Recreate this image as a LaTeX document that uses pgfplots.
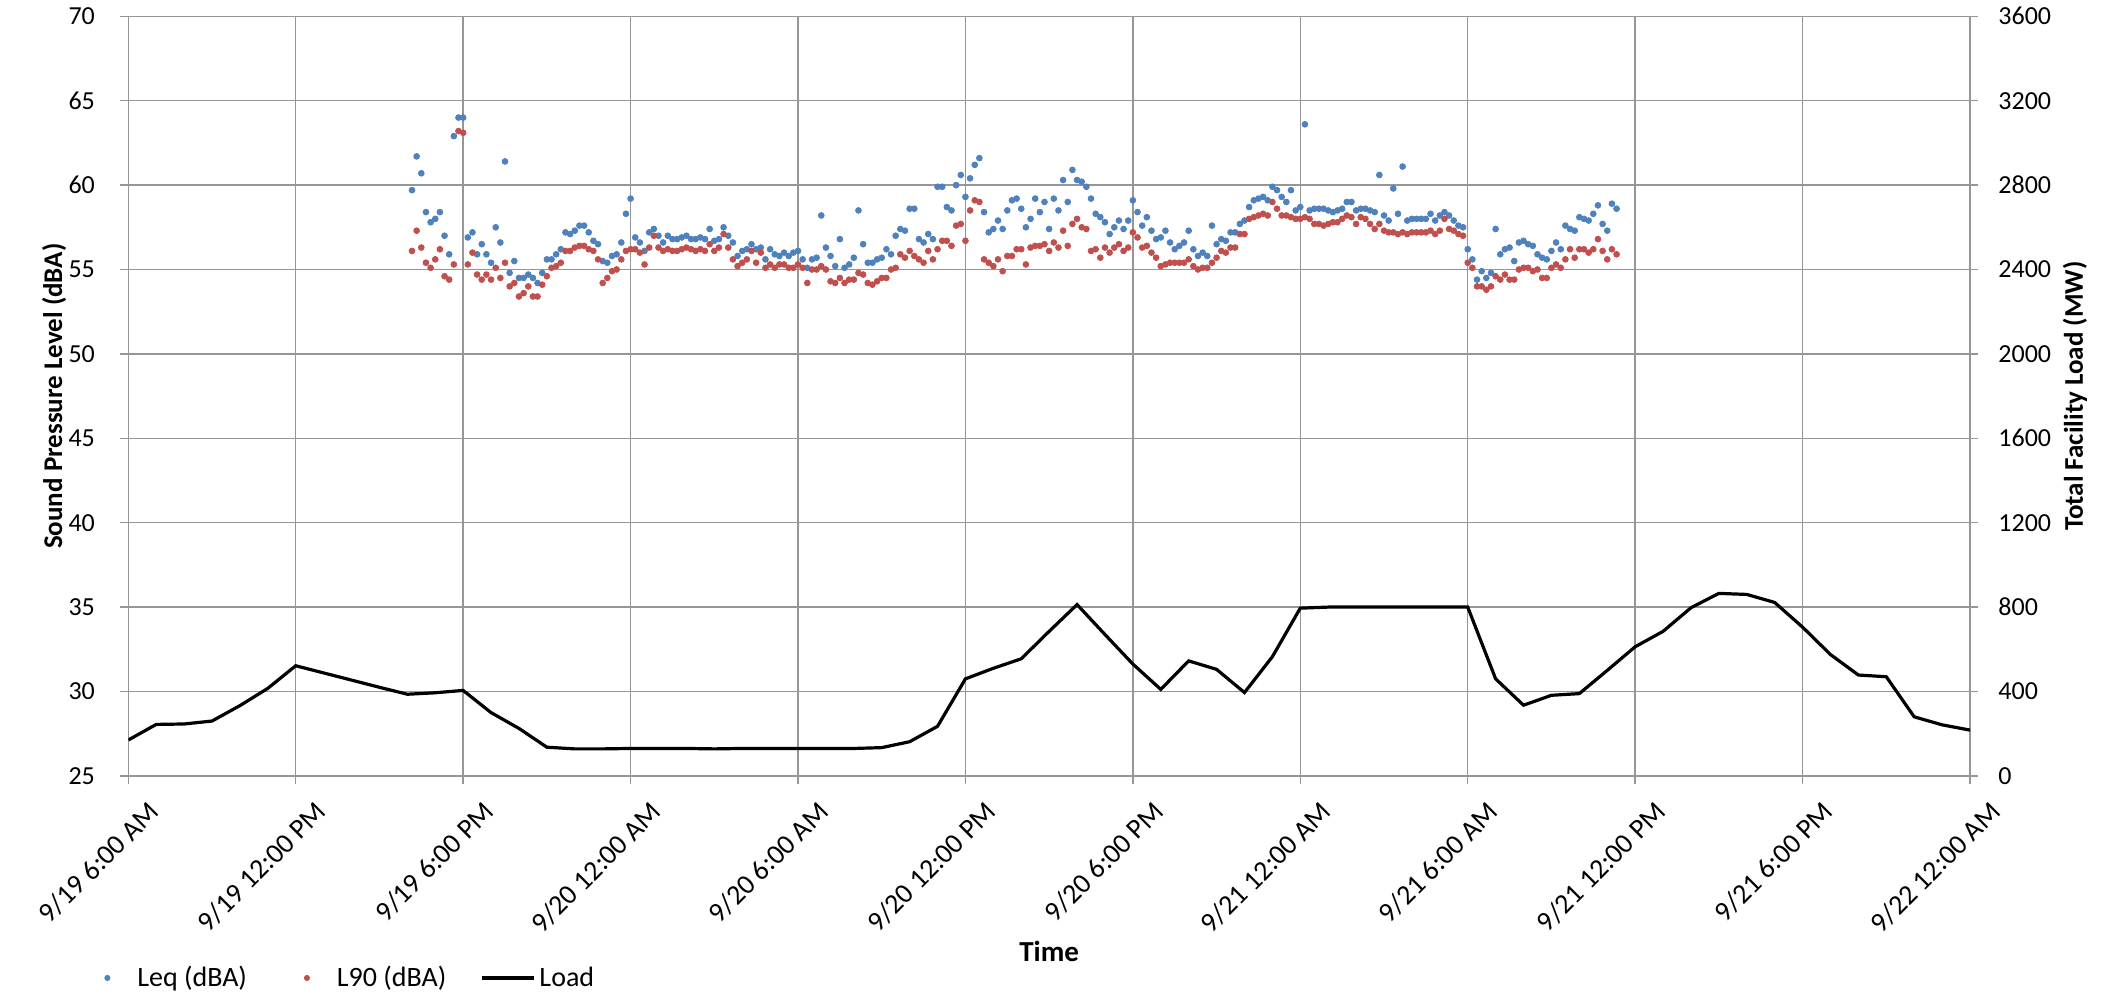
\documentclass[border=0pt]{standalone}
\usepackage{fontspec}
\setmainfont{Carlito}
\usepackage{pgfplots}
\usepackage{pgfplotstable}
\pgfplotsset{compat=1.18}
\definecolor{gridgray}{RGB}{150,150,150}
\definecolor{leqblue}{RGB}{79,129,189}
\definecolor{lred}{RGB}{192,80,77}
\pgfplotsset{/pgf/number format/assume math mode=true, /pgf/number format/1000 sep={}}
\pgfplotsset{
  bluelegend/.style={legend image code/.code={\path[draw=none,fill=none] (0pt,-1pt) rectangle (26pt,1pt); \fill[leqblue] (13pt,0pt) circle (1.3pt);}},
  redlegend/.style={legend image code/.code={\path[draw=none,fill=none] (0pt,-1pt) rectangle (26pt,1pt); \fill[lred] (13pt,0pt) circle (1.3pt);}},
  linelegend/.style={legend image code/.code={\draw[black, line width=1.6pt] (0pt,0pt) -- (26pt,0pt);}}
}

% x in 10-minute steps since 9/19 6:00 AM
\pgfplotstableread{
x leq l90
61 59.7 56.1
62 61.7 57.3
63 60.7 56.3
64 58.4 55.4
65 57.8 55.1
66 58.0 55.6
67 58.4 56.2
68 57.0 54.6
69 55.9 54.4
70 62.9 55.3
71 64.0 63.2
72 64.0 63.1
73 56.9 55.3
74 57.2 56.0
75 55.9 54.7
76 56.5 54.4
77 55.9 54.7
78 55.4 54.4
79 57.5 55.1
80 56.6 54.5
81 61.4 55.4
82 54.8 54.0
83 55.5 54.2
84 54.5 53.4
85 54.5 53.6
86 54.7 54.0
87 54.5 53.4
88 54.2 53.4
89 54.8 54.1
90 55.6 54.6
91 55.6 55.1
92 55.9 55.2
93 56.2 55.4
94 57.2 56.1
95 57.1 56.1
96 57.3 56.3
97 57.6 56.4
98 57.6 56.4
99 57.2 56.2
100 56.7 56.1
101 56.5 55.6
102 55.5 54.2
103 55.4 54.5
104 55.8 54.9
105 55.9 55.0
106 56.6 55.6
107 58.3 56.1
108 59.2 56.2
109 56.9 56.2
110 56.6 56.0
111 56.1 55.3
112 57.2 56.3
113 57.4 57.0
114 57.0 56.3
115 56.6 56.1
116 57.0 56.2
117 56.8 56.1
118 56.8 56.1
119 56.9 56.2
120 57.0 56.3
121 56.8 56.2
122 56.8 56.1
123 56.9 56.2
124 56.8 56.1
125 57.4 56.5
126 56.7 56.1
127 56.8 56.3
128 57.5 57.1
129 57.0 56.3
130 56.6 55.6
131 55.8 55.2
132 56.1 55.4
133 56.2 55.6
134 56.5 56.1
135 56.2 55.4
136 56.3 56.0
137 55.6 55.1
138 56.2 55.3
139 55.9 55.1
140 55.8 55.3
141 56.0 55.3
142 55.8 55.1
143 56.0 55.1
144 56.1 55.3
145 55.6 55.1
146 55.1 54.2
147 55.6 55.0
148 55.7 55.0
149 58.2 55.2
150 56.3 55.0
151 55.8 54.3
152 55.2 54.2
153 56.8 54.5
154 55.1 54.2
155 55.3 54.4
156 55.7 54.4
157 58.5 54.8
158 56.5 54.7
159 55.4 54.2
160 55.4 54.1
161 55.6 54.3
162 55.7 54.5
163 56.2 54.5
164 55.9 55.0
165 57.0 55.1
166 57.4 55.9
167 57.3 55.7
168 58.6 56.1
169 58.6 55.8
170 56.8 55.6
171 56.6 55.4
172 57.1 56.1
173 56.8 55.6
174 59.9 56.2
175 59.9 56.7
176 58.7 56.7
177 58.5 56.4
178 60.0 57.6
179 60.6 57.7
180 59.3 56.7
181 60.4 58.5
182 61.2 59.1
183 61.6 59.0
184 58.4 55.6
185 57.2 55.4
186 57.4 55.2
187 57.9 55.6
188 57.4 54.9
189 58.5 55.8
190 59.1 55.8
191 59.2 56.2
192 58.6 56.2
193 57.5 55.3
194 58.0 56.3
195 59.2 56.4
196 58.4 56.4
197 59.0 56.5
198 57.4 56.1
199 59.2 56.6
200 58.5 56.3
201 60.3 57.3
202 59.0 56.4
203 60.9 57.7
204 60.3 58.0
205 60.2 57.5
206 59.9 57.4
207 59.2 56.1
208 58.3 56.2
209 58.1 55.7
210 57.8 56.3
211 57.1 56.0
212 57.5 56.3
213 57.9 56.5
214 57.4 56.1
215 57.9 56.3
216 59.1 57.2
217 58.4 56.9
218 57.6 56.3
219 58.1 56.4
220 57.3 56.0
221 56.8 55.7
222 56.9 55.2
223 57.3 55.3
224 56.6 55.4
225 56.2 55.4
226 56.4 55.4
227 56.6 55.4
228 57.3 55.6
229 56.2 55.2
230 55.8 55.0
231 56.0 55.1
232 55.8 55.1
233 57.6 55.4
234 56.5 55.7
235 56.8 56.1
236 56.7 56.0
237 57.2 56.3
238 57.2 56.3
239 57.7 57.1
240 57.9 57.1
241 58.7 58.0
242 59.1 58.1
243 59.2 58.2
244 59.3 58.3
245 59.1 58.2
246 59.9 59.0
247 59.7 58.6
248 59.3 58.2
249 59.0 58.2
250 59.7 58.1
251 58.5 58.0
252 58.7 58.0
253 63.6 58.1
254 58.5 58.0
255 58.6 57.7
256 58.6 57.7
257 58.6 57.6
258 58.5 57.7
259 58.4 57.8
260 58.5 57.8
261 58.6 58.0
262 59.0 58.2
263 59.0 58.1
264 58.5 57.7
265 58.6 58.1
266 58.6 58.0
267 58.5 57.7
268 58.4 57.4
269 60.6 57.7
270 58.2 57.3
271 57.9 57.2
272 59.8 57.2
273 58.3 57.1
274 61.1 57.2
275 57.9 57.1
276 58.0 57.2
277 58.0 57.2
278 58.0 57.2
279 58.0 57.2
280 58.3 57.3
281 57.9 57.1
282 58.2 57.3
283 58.4 58.0
284 58.2 57.4
285 57.9 57.3
286 57.6 57.1
287 57.5 57.0
288 56.2 55.4
289 55.6 55.1
290 54.4 54.0
291 54.9 54.0
292 54.5 53.8
293 54.8 54.0
294 57.4 54.6
295 55.9 54.4
296 56.2 54.7
297 56.3 54.4
298 55.5 54.4
299 56.6 55.0
300 56.7 55.1
301 56.5 55.1
302 56.4 54.9
303 55.9 55.0
304 55.7 54.5
305 55.6 54.5
306 56.1 55.1
307 56.6 55.3
308 56.2 55.1
309 57.6 55.6
310 57.4 56.2
311 57.3 55.7
312 58.1 56.2
313 58.0 56.2
314 57.9 56.0
315 58.3 56.2
316 58.8 56.8
317 57.7 56.1
318 57.3 55.6
319 58.9 56.2
320 58.6 55.9
}\sounddata

\pgfplotstableread{
x load
0 170
6 244
12 246
18 260
24 333
30 415
36 522
42 488
48 454
54 420
60 387
66 394
72 405
78 300
84 225
90 136
96 128
102 128
108 130
114 130
120 130
126 128
132 130
138 130
144 130
150 130
156 130
162 134
168 162
174 235
180 460
186 510
192 555
198 685
204 812
210 670
216 530
222 410
228 545
234 505
240 395
246 565
252 795
258 800
264 800
270 800
276 800
282 800
288 800
294 460
300 335
306 382
312 390
318 500
324 612
330 685
336 797
342 865
348 860
354 822
360 705
366 575
372 478
378 470
384 280
390 242
396 217
}\loaddata

\begin{document}
\begin{tikzpicture}[font=\fontsize{13}{15}\selectfont]
\begin{axis}[
  at={(0,0)}, anchor=south west,
  scale only axis, width=920.85pt, height=379.8pt,
  xmin=0, xmax=396, ymin=25, ymax=70,
  xtick={0,36,...,396},
  xticklabels={9/19 6:00 AM,9/19 12:00 PM,9/19 6:00 PM,9/20 12:00 AM,9/20 6:00 AM,9/20 12:00 PM,9/20 6:00 PM,9/21 12:00 AM,9/21 6:00 AM,9/21 12:00 PM,9/21 6:00 PM,9/22 12:00 AM},
  ytick={25,30,...,70},
  xtick pos=bottom, ytick pos=left,
  tick align=outside, major tick length=4pt,
  grid=major,
  major grid style={draw=gridgray, line width=0.75pt},
  axis line style={draw=gridgray, line width=0.75pt},
  tick style={draw=gridgray, line width=0.75pt},
  xticklabel style={rotate=45, anchor=north east, inner sep=0pt, xshift=1pt, yshift=-12pt, font=\fontsize{14}{16}\selectfont},
  yticklabel style={anchor=east, inner sep=0pt, xshift=-12.5pt, font=\fontsize{13}{15}\selectfont},
  xlabel={Time},
  xlabel style={at={(axis description cs:0.5,-0.2307)}, anchor=center, font=\fontsize{14.5}{17}\selectfont\bfseries},
  ylabel={Sound Pressure Level (dBA)},
  ylabel style={at={(axis description cs:-0.0402,0.5)}, anchor=center, rotate=0, font=\fontsize{13.5}{16}\selectfont\bfseries},
  clip=false,
]
\addplot[only marks, mark=*, mark size=1.45pt, color=leqblue] table[x=x, y=leq]{\sounddata};
\addplot[only marks, mark=*, mark size=1.45pt, color=lred] table[x=x, y=l90]{\sounddata};
\end{axis}
\begin{axis}[
  at={(0,0)}, anchor=south west,
  scale only axis, width=920.85pt, height=379.8pt,
  xmin=0, xmax=396, ymin=0, ymax=3600,
  axis x line=none,
  axis y line*=right,
  ytick={0,400,...,3600},
  tick align=outside, major tick length=4pt,
  axis line style={draw=gridgray, line width=0.75pt, -},
  tick style={draw=gridgray, line width=0.75pt},
  yticklabel style={anchor=west, inner sep=0pt, xshift=10pt, font=\fontsize{13}{15}\selectfont},
  ylabel={Total Facility Load (MW)},
  ylabel style={at={(axis description cs:1.057,0.5)}, anchor=center, rotate=0, font=\fontsize{13.5}{16}\selectfont\bfseries},
  legend columns=3,
  legend style={at={(axis description cs:-0.0257,-0.266)}, anchor=west, draw=none, fill=none, inner sep=0pt,
    font=\fontsize{14}{17}\selectfont,
    /tikz/every even column/.append style={column sep=15pt}},
  legend cell align=left,
]
\addlegendimage{bluelegend}
\addlegendentry{Leq (dBA)}
\addlegendimage{redlegend}
\addlegendentry{L90 (dBA)}
\addplot[black, line width=1.6pt, mark=none, linelegend] table[x=x, y=load]{\loaddata};
\addlegendentry{Load}
\end{axis}
\pgfresetboundingbox
\useasboundingbox (-64.15pt,-112.55pt) rectangle (988.85pt,387.95pt);
\end{tikzpicture}
\end{document}
